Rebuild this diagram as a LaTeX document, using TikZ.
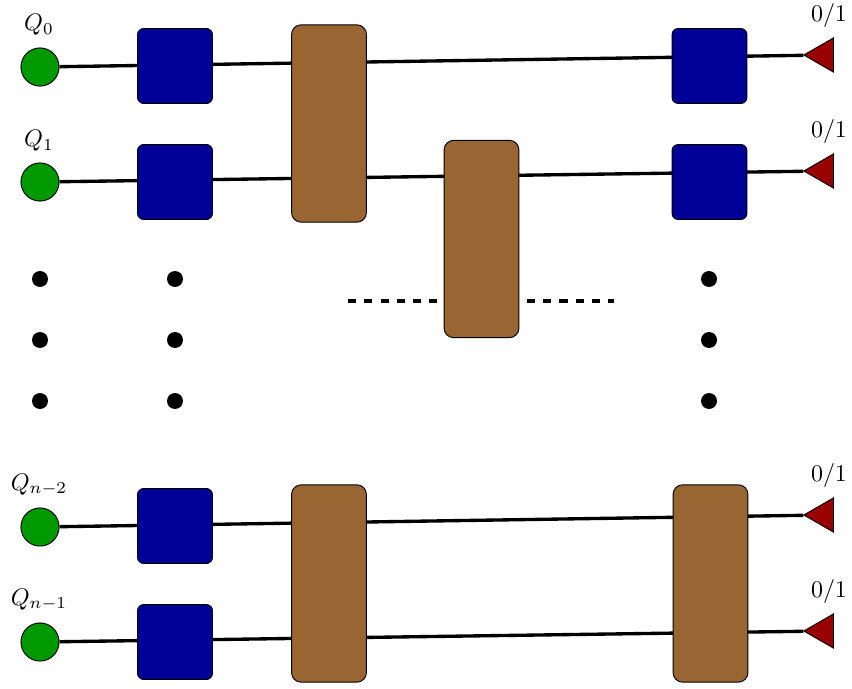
\documentclass[tikz,border=0pt]{standalone}
\usepackage{amsmath}
\usepackage{xcolor}
\usetikzlibrary{shapes.geometric, backgrounds}
\definecolor{qgreen}{HTML}{009900}
\definecolor{qblue}{HTML}{000099}
\definecolor{qbrown}{HTML}{996633}
\definecolor{qred}{HTML}{990000}

\begin{document}
\begin{tikzpicture}[
  x=0.0147cm, y=-0.0147cm,
  qubit/.style={circle, draw=black, fill=qgreen, inner sep=0pt, minimum size=0.56cm},
  sgate/.style={rectangle, rounded corners=2.5pt, draw=black, fill=qblue, inner sep=0pt, minimum width=1.1cm, minimum height=1.1cm},
  dgate/.style={rectangle, rounded corners=4pt, draw=black, fill=qbrown, inner sep=0pt, minimum width=1.1cm, minimum height=2.9cm},
  meas/.style={regular polygon, regular polygon sides=3, shape border rotate=90, draw=black, fill=qred, inner sep=0pt, minimum size=0.58cm},
  vdot/.style={circle, fill=black, inner sep=0pt, minimum size=0.235cm},
  wire/.style={line width=1.4pt, black},
]
\useasboundingbox (0,0) rectangle (852,688);

% Qubits
\node[qubit] (q0) at (40, 67) {};
\node[qubit] (q1) at (40, 182) {};
\node[qubit] (q2) at (40, 527) {};
\node[qubit] (q3) at (40, 642) {};
\node (lq0) at (39, 25) {$Q_0$};
\node (lq1) at (39, 141) {$Q_1$};
\node (lq2) at (39, 485) {$Q_{n-2}$};
\node (lq3) at (39, 600) {$Q_{n-1}$};

% Single-qubit gates
\node[sgate] (s0) at (175, 66) {};
\node[sgate] (s1) at (175, 182) {};
\node[sgate] (s2) at (175, 526) {};
\node[sgate] (s3) at (175, 642) {};
\node[sgate] (r0) at (709.5, 66) {};
\node[sgate] (r1) at (709.5, 182) {};

% Two-qubit gates
\node[dgate] (d1) at (329, 123.5) {};
\node[dgate] (d2) at (481.5, 239) {};
\node[dgate] (d3) at (329, 583.5) {};
\node[dgate] (d4) at (710.5, 583.5) {};

% Measurements
\node[meas] (m0) at (823.6, 55) {};
\node[meas] (m1) at (823.6, 171) {};
\node[meas] (m2) at (823.6, 515) {};
\node[meas] (m3) at (823.6, 631) {};
\node (lm0) at (829, 15.5) {$0/1$};
\node (lm1) at (829, 131.5) {$0/1$};
\node (lm2) at (829, 475.5) {$0/1$};
\node (lm3) at (829, 591.5) {$0/1$};

% Vertical dots
\node[vdot] (v1) at (40, 279) {};
\node[vdot] (v2) at (40, 340) {};
\node[vdot] (v3) at (40, 401) {};
\node[vdot] (v4) at (175, 279) {};
\node[vdot] (v5) at (175, 340) {};
\node[vdot] (v6) at (175, 401) {};
\node[vdot] (v7) at (709, 279) {};
\node[vdot] (v8) at (709, 340) {};
\node[vdot] (v9) at (709, 401) {};

% Wires
\coordinate (dl) at (348, 301);
\coordinate (dr) at (614, 301);
\begin{scope}[on background layer]
\draw[wire] (q0) -- (m0);
\draw[wire] (q1) -- (m1);
\draw[wire] (q2) -- (m2);
\draw[wire] (q3) -- (m3);
\draw[wire, dash pattern=on 3.4pt off 3.4pt] (dl) -- (dr);
\end{scope}

\end{tikzpicture}
\end{document}
